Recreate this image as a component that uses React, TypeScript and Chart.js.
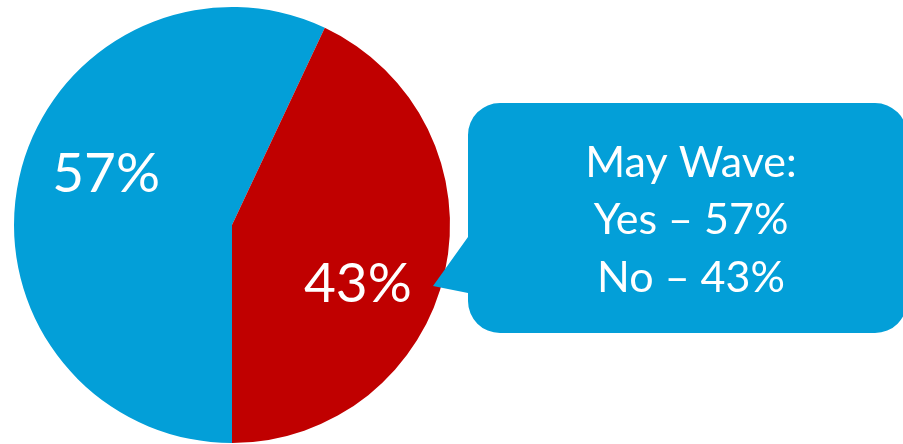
import React, { useEffect, useRef } from "react";
import { Chart, registerables } from "chart.js";

Chart.register(...registerables);

const categories = ["Yes", "No"];
const values = [57, 43];
const sliceColors = ["#039FD8", "#C00000"];
const calloutTitle = "May Wave:";
const calloutLines = categories.map((c, i) => `${c} \u2013 ${values[i]}%`);

const FONT = "Lato, 'Open Sans', sans-serif";

const overlayPlugin = {
  id: "overlay",
  afterDatasetsDraw(chart: any) {
    const ctx = chart.ctx;
    const meta = chart.getDatasetMeta(0);
    ctx.save();
    // slice labels
    ctx.fillStyle = "#ffffff";
    ctx.font = `55px ${FONT}`;
    ctx.textAlign = "center";
    ctx.textBaseline = "alphabetic";
    meta.data.forEach((arc: any, i: number) => {
      const p = arc.getProps(["x", "y", "startAngle", "endAngle", "outerRadius"], true);
      const mid = (p.startAngle + p.endAngle) / 2 + (11 * Math.PI) / 180;
      const r = p.outerRadius * 0.63;
      ctx.fillText(`${values[i]}%`, p.x + Math.cos(mid) * r, p.y + Math.sin(mid) * r + 22);
    });

    // callout
    const left = 468, top = 103, right = 907, bottom = 333, rad = 32;
    ctx.fillStyle = sliceColors[0];
    ctx.beginPath();
    ctx.moveTo(left + rad, top);
    ctx.lineTo(right - rad, top);
    ctx.arcTo(right, top, right, top + rad, rad);
    ctx.lineTo(right, bottom - rad);
    ctx.arcTo(right, bottom, right - rad, bottom, rad);
    ctx.lineTo(left + rad, bottom);
    ctx.arcTo(left, bottom, left, bottom - rad, rad);
    ctx.lineTo(left, 293);
    ctx.lineTo(433, 286);
    ctx.lineTo(left, 237);
    ctx.lineTo(left, top + rad);
    ctx.arcTo(left, top, left + rad, top, rad);
    ctx.closePath();
    ctx.fill();

    ctx.fillStyle = "#ffffff";
    ctx.font = `43px ${FONT}`;
    ctx.textAlign = "center";
    ctx.textBaseline = "alphabetic";
    const cx = 691;
    ctx.fillText(calloutTitle, cx, 177);
    ctx.fillText(calloutLines[0], cx, 234);
    ctx.fillText(calloutLines[1], cx, 292);
    ctx.restore();
  },
};

export default function App() {
  const ref = useRef<HTMLCanvasElement>(null);
  useEffect(() => {
    if (!ref.current) return;
    const chart = new Chart(ref.current, {
      type: "pie",
      data: {
        labels: categories,
        datasets: [
          {
            data: values,
            backgroundColor: sliceColors,
            borderWidth: 0,
          },
        ],
      },
      options: {
        responsive: false,
        animation: false,
        rotation: 180,
        layout: { padding: { left: 14, top: 7, right: 453, bottom: 7 } },
        plugins: {
          legend: { display: false },
          tooltip: { enabled: false },
        },
      },
      plugins: [overlayPlugin],
    });
    return () => chart.destroy();
  }, []);
  return (
    <div
      style={{
        position: "fixed",
        left: 0,
        top: 0,
        width: 903,
        height: 444,
        overflow: "hidden",
        background: "#ffffff",
      }}
    >
      <canvas ref={ref} width={903} height={450} style={{ display: "block" }} />
    </div>
  );
}
